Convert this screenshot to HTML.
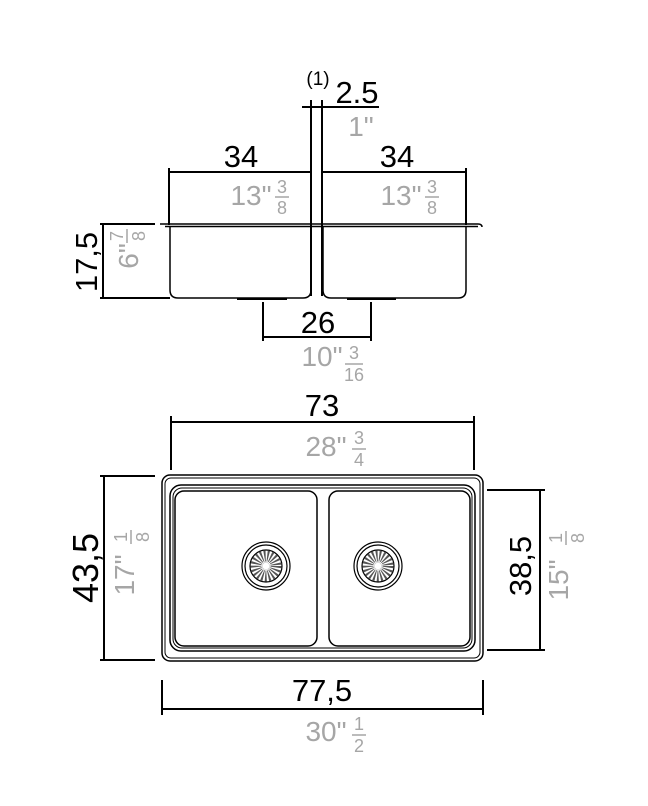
<!DOCTYPE html>
<html><head><style>html,body{margin:0;padding:0;background:#fff}svg{display:block}</style></head>
<body>
<svg width="648" height="806" viewBox="0 0 648 806" xmlns="http://www.w3.org/2000/svg" font-family="Liberation Sans, sans-serif">
<g stroke="#000" fill="none" stroke-width="2">
<line x1="302" y1="107" x2="379" y2="107"/>
<line x1="311" y1="100" x2="311" y2="296"/>
<line x1="322" y1="100" x2="322" y2="296"/>
<line x1="169" y1="172" x2="311" y2="172"/>
<line x1="323" y1="172" x2="466" y2="172"/>
<line x1="169" y1="168" x2="169" y2="225"/>
<line x1="466" y1="168" x2="466" y2="225"/>
<path d="M160 224 L478 224 Q482 224 482 227" stroke-width="1.5"/>
<line x1="165" y1="226.5" x2="478" y2="226.5" stroke-width="1.5"/>
<path d="M170 227 L170 290 Q170 298 178 298 L303 298 Q311 298 311 290 L311 227" stroke-width="1.5"/>
<path d="M323 227 L323 290 Q323 298 331 298 L458 298 Q466 298 466 290 L466 227" stroke-width="1.5"/>
<line x1="237" y1="299" x2="287" y2="299"/>
<line x1="347" y1="299" x2="396" y2="299"/>
<line x1="103" y1="224" x2="103" y2="298"/>
<line x1="100" y1="224" x2="155" y2="224"/>
<line x1="100" y1="298" x2="170" y2="298"/>
<line x1="263" y1="302" x2="263" y2="341"/>
<line x1="371" y1="302" x2="371" y2="341"/>
<line x1="263" y1="337" x2="371" y2="337"/>
<line x1="171" y1="422" x2="474" y2="422"/>
<line x1="171" y1="416" x2="171" y2="470"/>
<line x1="474" y1="416" x2="474" y2="470"/>
<rect x="162" y="475" width="321" height="186" rx="8" stroke-width="1.5"/>
<rect x="165" y="478" width="315" height="180" rx="6" stroke-width="1"/>
<rect x="170" y="485" width="305" height="166" rx="11" stroke-width="1.5"/>
<rect x="173" y="488" width="299" height="160" rx="9" stroke-width="1"/>
<rect x="175" y="491" width="142" height="155" rx="9" stroke-width="1.5"/>
<rect x="329" y="491" width="141" height="155" rx="9" stroke-width="1.5"/>
<line x1="104" y1="476" x2="104" y2="660"/>
<line x1="100" y1="476" x2="155" y2="476"/>
<line x1="100" y1="660" x2="155" y2="660"/>
<line x1="540" y1="490" x2="540" y2="650"/>
<line x1="487" y1="490" x2="545" y2="490"/>
<line x1="487" y1="650" x2="545" y2="650"/>
<line x1="162" y1="680" x2="162" y2="715"/>
<line x1="483" y1="680" x2="483" y2="715"/>
<line x1="162" y1="709" x2="483" y2="709"/>
</g>
<g stroke="#000" fill="none" stroke-width="1.2">
<circle cx="266" cy="566" r="24"/><circle cx="266" cy="566" r="21"/><circle cx="266" cy="566" r="16"/><circle cx="266" cy="566" r="3"/>
<circle cx="266" cy="566" r="10" stroke-dasharray="1.5 1.5" stroke-width="11" stroke="#555"/>
<circle cx="378" cy="566" r="24"/><circle cx="378" cy="566" r="21"/><circle cx="378" cy="566" r="16"/><circle cx="378" cy="566" r="3"/>
<circle cx="378" cy="566" r="10" stroke-dasharray="1.5 1.5" stroke-width="11" stroke="#555"/>
</g>
<g fill="#fff"><circle cx="266" cy="566" r="3.5"/><circle cx="378" cy="566" r="3.5"/></g>
<g fill="#000" font-size="31" text-anchor="middle">
<text x="318" y="85" font-size="19">(1)</text>
<text x="357" y="103">2.5</text>
<text x="241" y="167">34</text>
<text x="397" y="167">34</text>
<text x="318" y="333">26</text>
<text x="322" y="416">73</text>
<text x="322" y="701">77,5</text>
<text transform="translate(97,262) rotate(-90)">17,5</text>
<text transform="translate(98,568) rotate(-90)" font-size="36">43,5</text>
<text transform="translate(531,566) rotate(-90)">38,5</text>
</g>
<g fill="#a6a6a6" font-size="28" text-anchor="middle">
<text x="361" y="136">1"</text>
<text x="251" y="205">13"</text>
<text x="401" y="205">13"</text>
<text x="322" y="366">10"</text>
<text x="326" y="456">28"</text>
<text x="326" y="741">30"</text>
<text transform="translate(138,256) rotate(-90)">6"</text>
<text transform="translate(134,575) rotate(-90)">17"</text>
<text transform="translate(568,580) rotate(-90)">15"</text>
<g font-size="18">
<text x="282" y="193">3</text><text x="282" y="214">8</text>
<text x="432" y="193">3</text><text x="432" y="214">8</text>
<text x="354" y="359">3</text><text x="354" y="381">16</text>
<text x="359" y="444">3</text><text x="359" y="466">4</text>
<text x="359" y="730">1</text><text x="359" y="752">2</text>
<text transform="translate(123,236) rotate(-90)">7</text><text transform="translate(145,236) rotate(-90)">8</text>
<text transform="translate(127,537) rotate(-90)">1</text><text transform="translate(149,537) rotate(-90)">8</text>
<text transform="translate(562,538) rotate(-90)">1</text><text transform="translate(584,538) rotate(-90)">8</text>
</g>
</g>
<g stroke="#a6a6a6" stroke-width="1.5">
<line x1="275" y1="197" x2="289" y2="197"/>
<line x1="425" y1="197" x2="439" y2="197"/>
<line x1="345" y1="364" x2="363" y2="364"/>
<line x1="352" y1="449" x2="366" y2="449"/>
<line x1="352" y1="735" x2="366" y2="735"/>
<line x1="127" y1="229" x2="127" y2="243"/>
<line x1="131" y1="530" x2="131" y2="544"/>
<line x1="566" y1="531" x2="566" y2="545"/>
</g>
</svg>
</body></html>
